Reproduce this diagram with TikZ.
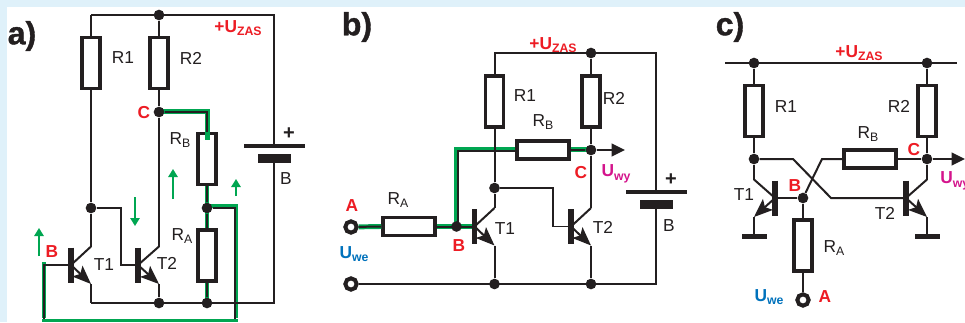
\documentclass[tikz,border=0pt]{standalone}
\usepackage{fontspec}
\setmainfont{Liberation Sans}
\usetikzlibrary{arrows.meta}
\definecolor{bgblue}{HTML}{DFF1FA}
\definecolor{wirek}{HTML}{231F20}
\definecolor{gpath}{HTML}{00A651}
\definecolor{labred}{HTML}{ED1C24}
\definecolor{labblue}{HTML}{0072BC}
\definecolor{labmag}{HTML}{D4148C}
\tikzset{
  wire/.style={draw=wirek,line width=1.5pt},
  thinw/.style={draw=wirek,line width=1.3pt},
  gwire/.style={draw=gpath,line width=3.7pt,line cap=butt},
  gthin/.style={draw=gpath,line width=1.9pt},
  resv/.style={draw=wirek,fill=white,line width=2.6pt,rectangle,inner sep=0pt,minimum width=13.2pt,minimum height=38.5pt},
  resh/.style={draw=wirek,fill=white,line width=2.6pt,rectangle,inner sep=0pt,minimum width=39pt,minimum height=13.2pt},
  dot/.style={circle,fill=wirek,draw=none,inner sep=0pt,minimum size=8pt},
  term/.style={circle,fill=white,draw=wirek,line width=3pt,inner sep=0pt,minimum size=8.5pt},
  lab/.style={text=wirek,font=\fontsize{13}{14}\selectfont,inner sep=0pt},
  redl/.style={text=labred,font=\fontsize{13}{14}\selectfont\bfseries,inner sep=0pt},
  bluel/.style={text=labblue,font=\fontsize{13}{14}\selectfont\bfseries,inner sep=0pt},
  magl/.style={text=labmag,font=\fontsize{13}{14}\selectfont\bfseries,inner sep=0pt},
  head/.style={text=wirek,font=\fontsize{24}{26}\selectfont\bfseries\addfontfeature{FakeBold=1.2},inner sep=0pt},
  barb/.style={draw=wirek,line width=3.8pt},
  plate/.style={fill=wirek,draw=none},
  garrow/.style={draw=gpath,line width=1.3pt,-{Triangle[length=6pt,width=7pt]}},
  emit/.style={draw=wirek,line width=1.5pt,-{Stealth[length=14pt,width=11pt,inset=3pt]}},
  outa/.style={draw=wirek,line width=1.5pt,-{Triangle[length=10pt,width=9.5pt]}},
}
\newcommand{\sbt}[1]{\raisebox{-2.6pt}{\fontsize{9.2}{10}\selectfont #1}}
\newcommand{\bjt}[4]{%
  \coordinate (#4b) at (#1,#2);
  \coordinate (#4c) at ({#1+#3},{#2-18.5});
  \coordinate (#4e) at ({#1+#3},{#2+19});
  \draw[wire] (#4b) -- (#4c);
  \draw[emit] (#4b) -- (#4e);
  \draw[barb] (#1,{#2-17.5}) -- (#1,{#2+17.5});
}
\newcommand{\zas}[1]{\node[redl] at (#1) {+U\sbt{ZAS}};}
\begin{document}
\begin{tikzpicture}[x=0.75pt,y=-0.75pt]
\useasboundingbox (0,0) rectangle (965,322);
\clip (0,0) rectangle (965,322);
\fill[bgblue] (0,0) rectangle (965,322);
\fill[white] (7,7) rectangle (965,322);

% ---------- panel a
\node[head] (ah) at (22,36) {a)};
\node[resv] (aR1) at (91,63) {};
\node[resv] (aR2) at (159,63) {};
\node[resv] (aRB) at (207,159) {};
\node[resv] (aRA) at (207,255.5) {};
\coordinate (atl) at (91,15);
\coordinate (atr) at (274,15);
\coordinate (abl) at (91,303);
\coordinate (abr) at (274,303);
\coordinate (ab1) at (274,146);
\coordinate (ab2) at (274,158);
% green first
\coordinate (agc) at (207.5,111.5);
\coordinate (agm) at (236,206);
\coordinate (agb) at (44,264);
\draw[gwire] (159,111.5) -- (agc) -- (207.5,140);
\draw[gwire] (207,186) -- (207,228);
\draw[gwire] (207,283) -- (207,303);
\draw[gwire] (207,206) -- (agm) -- (236,318);
\draw[gwire] (46,264) -- (agb) -- (44,318);
\draw[gthin] (42,320.7) -- (238,320.7);
\draw[wire] (atl) -- (atr) -- (ab1);
\draw[wire] (ab2) -- (abr) -- (abl);
\draw[wire] (atl) -- (aR1.north);
\node[dot] (aJt) at (159,15) {};
\draw[wire] (aJt) -- (aR2.north);
\node[dot] (aC) at (159,112) {};
\draw[wire] (aR2.south) -- (aC);
\draw[wire] (aC) -- (206.5,112) -- (206.5,132);
\node[dot] (aJm) at (207,208) {};
\draw[wire] (aRB.south) -- (aJm) -- (aRA.north);
\node[dot] (aJb2) at (159,303) {};
\node[dot] (aJb3) at (207,303) {};
\draw[wire] (aRA.south) -- (aJb3);
\draw[wire] (aJm) -- (234.5,208) -- (234.5,319);
\draw[wire] (44,319) -- (44,265) -- (71,265);
\node[dot] (aJ1) at (91,208) {};
\draw[wire] (aR1.south) -- (aJ1);
\bjt{71}{265}{20}{aT}
\bjt{138}{265}{21}{bT}
\draw[wire] (aJ1) -- (aTc);
\draw[wire] (aTe) -- (abl);
\draw[wire] (aC) -- (bTc);
\draw[wire] (bTe) -- (aJb2);
\draw[thinw] (aJ1) -- (121,208) -- (121,265) -- (bTb);
\draw[line width=2.6pt,draw=wirek] (244,146) -- (305,146);
\fill[plate] (258,154) rectangle (291,163);
\draw[wire] (274,163) -- (274,200);
\node[lab,font=\fontsize{15}{15}\selectfont\bfseries] at (289,134) {+};
\node[lab] at (286,179) {B};
\zas{238,28}
\node[lab] at (123,58) {R1};
\node[lab] at (191,58) {R2};
\node[lab] at (180,140) {R\sbt{\mdseries B}};
\node[lab] at (182,236) {R\sbt{\mdseries A}};
\node[lab] at (104,265) {T1};
\node[lab] at (167,263) {T2};
\node[redl] at (144,113) {C};
\node[redl] at (52,252) {B};
\draw[garrow] (39,256) -- (39,228);
\draw[garrow] (135,197) -- (135,226);
\draw[garrow] (173,199) -- (173,169);
\draw[garrow] (236,196) -- (236,179);

% ---------- panel b
\node[head] (bh) at (357,27) {b)};
\node[resv] (bR1) at (494.5,101.5) {};
\node[resv] (bR2) at (591,101.5) {};
\node[resh] (bRB) at (543,150) {};
\node[resh] (bRA) at (409,226.5) {};
\node[term] (bA) at (351,227) {};
\node[term] (bG) at (351,284) {};
\coordinate (bgc) at (456,149.5);
\draw[gwire] (bA) -- (bRA.west);
\draw[gwire] (bRA.east) -- (473,226.5);
\draw[gwire] (456,226.5) -- (bgc) -- (515,149.5);
\draw[gwire] (571,149.5) -- (591,149.5);
\node[dot] (bJt) at (591,53) {};
\coordinate (btl) at (494.5,53);
\coordinate (btr) at (656,53);
\coordinate (bbr) at (656,284);
\draw[wire] (bR1.north) -- (btl) -- (btr) -- (656,192);
\draw[wire] (bJt) -- (bR2.north);
\node[dot] (bC) at (591,150) {};
\draw[wire] (bR2.south) -- (bC);
\draw[wire] (bRB.east) -- (bC);
\draw[wire] (515,151) -- (458,151) -- (458,226.5);
\node[dot] (bB) at (456.5,226.5) {};
\draw[wire] (bA) -- (bRA.west);
\draw[wire] (bRA.east) -- (474,226.5);
\node[dot] (bJ1) at (494.5,188) {};
\draw[wire] (bR1.south) -- (bJ1);
\node[dot] (bJb1) at (494.5,284) {};
\node[dot] (bJb2) at (591,284) {};
\draw[wire] (bG) -- (bbr) -- (656,205);
\bjt{474.5}{226.5}{20}{cT}
\bjt{571}{226.5}{20}{dT}
\draw[wire] (bJ1) -- (cTc);
\draw[wire] (cTe) -- (bJb1);
\draw[wire] (bC) -- (dTc);
\draw[wire] (dTe) -- (bJb2);
\draw[thinw] (bJ1) -- (553,188) -- (553,226.5) -- (dTb);
\coordinate (bOut) at (625,150);
\draw[outa] (bC) -- (bOut);
\draw[line width=2.6pt,draw=wirek] (626,192) -- (687,192);
\fill[plate] (640,200) rectangle (673,209);
\node[lab,font=\fontsize{15}{15}\selectfont\bfseries] at (671,180) {+};
\node[lab] at (669,226) {B};
\zas{553,45}
\node[lab] at (525,96) {R1};
\node[lab] at (614,98) {R2};
\node[lab] at (543,122) {R\sbt{\mdseries B}};
\node[lab] at (398,200) {R\sbt{\mdseries A}};
\node[lab] at (505,229) {T1};
\node[lab] at (603,227) {T2};
\node[redl] at (352,206) {A};
\node[redl] at (459,246) {B};
\node[redl] at (581,173) {C};
\node[magl] at (616,174) {U\sbt{wy}};
\node[bluel] at (354,254) {U\sbt{we}};

% ---------- panel c
\node[head] (ch) at (730,27) {c)};
\node[resv] (cR1) at (754,111) {};
\node[resv] (cR2) at (927,111) {};
\node[resh] (cRB) at (870,159) {};
\node[resv] (cRA) at (803,245.5) {};
\coordinate (ctl) at (725,63);
\coordinate (ctr) at (957,63);
\draw[wire] (ctl) -- (ctr);
\node[dot] (cJt1) at (754,63) {};
\node[dot] (cJt2) at (927,63) {};
\draw[wire] (cJt1) -- (cR1.north);
\draw[wire] (cJt2) -- (cR2.north);
\node[dot] (cJ1) at (754,159) {};
\node[dot] (cJ2) at (927,159) {};
\draw[wire] (cR1.south) -- (cJ1);
\draw[wire] (cR2.south) -- (cJ2);
\draw[wire] (cRB.east) -- (cJ2);
\node[dot] (cB) at (803,198) {};
\draw[wire] (cRB.west) -- (822,159) -- (cB);
\draw[wire] (cB) -- (cRA.north);
\node[term] (cA) at (803,300) {};
\draw[wire] (cRA.south) -- (cA);
\bjt{775}{198}{-21}{eT}
\bjt{906}{198}{21}{fT}
\draw[wire] (cJ1) -- (eTc);
\draw[wire] (cJ2) -- (fTc);
\draw[wire] (cB) -- (eTb);
\draw[wire] (cJ1) -- (793,159) -- (831,198) -- (fTb);
\coordinate (cg1) at (754,236.5);
\coordinate (cg2) at (927,236.5);
\draw[wire] (eTe) -- (cg1);
\draw[wire] (fTe) -- (cg2);
\draw[line width=4pt,draw=wirek] (742,236.5) -- (767,236.5);
\draw[line width=4pt,draw=wirek] (915,236.5) -- (940,236.5);
\coordinate (cOut) at (965,159);
\draw[outa] (cJ2) -- (cOut);
\zas{859,53}
\node[lab] at (786,107) {R1};
\node[lab] at (899,106) {R2};
\node[lab] at (868,134) {R\sbt{\mdseries B}};
\node[lab] at (834,248) {R\sbt{\mdseries A}};
\node[lab] at (744,195) {T1};
\node[lab] at (885,213) {T2};
\node[redl] at (795,186) {B};
\node[redl] at (914,150) {C};
\node[magl,anchor=west] at (940,181) {U\sbt{wy}};
\node[bluel] at (769,297) {U\sbt{we}};
\node[redl] at (825,297) {A};
\end{tikzpicture}
\end{document}
